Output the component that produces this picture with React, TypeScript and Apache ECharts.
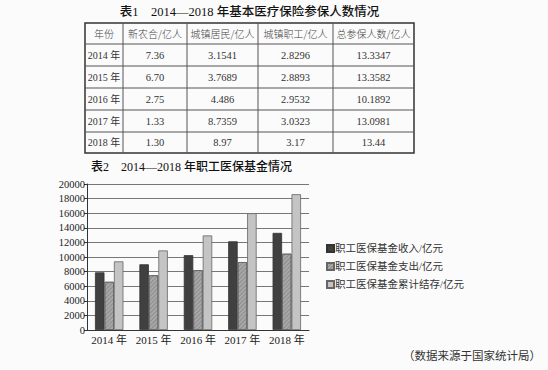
import React, { useEffect, useRef } from "react";
import * as echarts from "echarts";

// ---- Table 1 data ----
const table1Title = "表1　2014—2018 年基本医疗保险参保人数情况";
const tableHeaders = ["年份", "新农合/亿人", "城镇居民/亿人", "城镇职工/亿人", "总参保人数/亿人"];
const tableYears = ["2014 年", "2015 年", "2016 年", "2017 年", "2018 年"];
const xinNongHe = ["7.36", "6.70", "2.75", "1.33", "1.30"];
const chengZhenJuMin = ["3.1541", "3.7689", "4.486", "8.7359", "8.97"];
const chengZhenZhiGong = ["2.8296", "2.8893", "2.9532", "3.0323", "3.17"];
const zongCanBao = ["13.3347", "13.3582", "10.1892", "13.0981", "13.44"];

// ---- Table 2 (chart) data ----
const chartTitle = "表2　2014—2018 年职工医保基金情况";
const categories = ["2014 年", "2015 年", "2016 年", "2017 年", "2018 年"];
const seriesNames = ["职工医保基金收入/亿元", "职工医保基金支出/亿元", "职工医保基金累计结存/亿元"];
const income = [7900, 9000, 10250, 12150, 13300];
const expense = [6600, 7500, 8200, 9300, 10450];
const balance = [9400, 10900, 12950, 16000, 18600];
const sourceNote = "（数据来源于国家统计局）";

const SERIF = '"Liberation Serif", "DejaVu Serif", "Noto Sans CJK SC", serif';
const CJK = '"Noto Sans CJK SC", "Liberation Serif", sans-serif';

export default function App() {
  const ref = useRef<HTMLDivElement>(null);
  useEffect(() => {
    if (!ref.current) return;
    const chart = echarts.init(ref.current, undefined, { renderer: "svg" });

    // table layout
    const colX = [85, 123, 187, 258, 333, 414];
    const rowY = [23, 44, 66, 88, 110, 132, 153];
    const columns = [tableYears, xinNongHe, chengZhenJuMin, chengZhenZhiGong, zongCanBao];
    const graphics: any[] = [];
    graphics.push({
      type: "text",
      style: {
        text: table1Title,
        x: (colX[0] + colX[colX.length - 1]) / 2,
        y: 12,
        textAlign: "center",
        textVerticalAlign: "middle",
        font: `500 12.5px ${SERIF}`,
        fill: "#111",
      },
    });
    graphics.push({
      type: "rect",
      shape: { x: colX[0], y: rowY[0], width: colX[5] - colX[0], height: rowY[6] - rowY[0] },
      style: { fill: "none", stroke: "#333", lineWidth: 1.5 },
    });
    for (let i = 1; i < colX.length - 1; i++) {
      graphics.push({
        type: "line",
        shape: { x1: colX[i], y1: rowY[0], x2: colX[i], y2: rowY[6] },
        style: { stroke: "#555", lineWidth: 1 },
      });
    }
    for (let j = 1; j < rowY.length - 1; j++) {
      graphics.push({
        type: "line",
        shape: { x1: colX[0], y1: rowY[j], x2: colX[5], y2: rowY[j] },
        style: { stroke: "#555", lineWidth: 1 },
      });
    }
    tableHeaders.forEach((h, i) => {
      graphics.push({
        type: "text",
        style: {
          text: h,
          x: (colX[i] + colX[i + 1]) / 2,
          y: (rowY[0] + rowY[1]) / 2,
          textAlign: "center",
          textVerticalAlign: "middle",
          font: `300 10px ${CJK}`,
          fill: "#444",
        },
      });
    });
    columns.forEach((col, i) => {
      col.forEach((v, j) => {
        graphics.push({
          type: "text",
          style: {
            text: v,
            x: (colX[i] + colX[i + 1]) / 2,
            y: (rowY[j + 1] + rowY[j + 2]) / 2,
            textAlign: "center",
            textVerticalAlign: "middle",
            font: i === 0 ? `10px ${SERIF}` : `10.5px ${SERIF}`,
            fill: "#333",
          },
        });
      });
    });
    graphics.push({
      type: "text",
      style: {
        text: chartTitle,
        x: 91,
        y: 167,
        textAlign: "left",
        textVerticalAlign: "middle",
        font: `500 12px ${SERIF}`,
        fill: "#111",
      },
    });
    graphics.push({
      type: "text",
      style: {
        text: sourceNote,
        x: 541,
        y: 355,
        textAlign: "right",
        textVerticalAlign: "middle",
        font: `11.5px ${CJK}`,
        fill: "#333",
      },
    });

    const barBorder = { borderColor: "#333", borderWidth: 0.8 };
    chart.setOption({
      animation: false,
      backgroundColor: "#fbfbfb",
      textStyle: { fontFamily: SERIF },
      grid: { left: 87, right: 239, top: 184, bottom: 40 },
      legend: {
        orient: "vertical",
        left: 321,
        top: 237,
        icon: "rect",
        itemWidth: 7,
        itemHeight: 7,
        itemGap: 5,
        data: seriesNames,
        textStyle: { fontFamily: SERIF, fontSize: 10.5, color: "#333", padding: [0, 0, 0, -4], lineHeight: 13 },
      },
      xAxis: {
        type: "category",
        data: categories,
        axisLine: { lineStyle: { color: "#333", width: 1 } },
        axisTick: { show: false },
        axisLabel: { fontFamily: SERIF, fontSize: 11, color: "#222", margin: 4, interval: 0 },
      },
      yAxis: {
        type: "value",
        min: 0,
        max: 20000,
        interval: 2000,
        axisLine: { show: true, lineStyle: { color: "#333", width: 1 } },
        axisTick: { show: true, length: 3, lineStyle: { color: "#333" } },
        axisLabel: {
          fontFamily: SERIF,
          fontSize: 10.5,
          color: "#222",
          margin: 2,
          formatter: (v: number) => String(v),
        },
        splitLine: { lineStyle: { color: "#777", width: 1 } },
      },
      series: [
        {
          name: seriesNames[0],
          type: "bar",
          data: income,
          barGap: "0%",
          barCategoryGap: "36%",
          itemStyle: { color: "#404040", ...barBorder },
        },
        {
          name: seriesNames[1],
          type: "bar",
          data: expense,
          barGap: "0%",
          barCategoryGap: "36%",
          itemStyle: {
            color: "#a8a8a8",
            ...barBorder,
            borderColor: "#666",
            decal: {
              symbol: "rect",
              symbolSize: 1,
              dashArrayX: [1, 0],
              dashArrayY: [1, 2],
              rotation: -Math.PI / 4,
              color: "rgba(60,60,60,0.25)",
            },
          },
        },
        {
          name: seriesNames[2],
          type: "bar",
          data: balance,
          barGap: "0%",
          barCategoryGap: "36%",
          itemStyle: { color: "#c4c4c4", ...barBorder, borderColor: "#666" },
        },
      ],
      graphic: graphics,
    });
    return () => chart.dispose();
  }, []);
  return (
    <div
      ref={ref}
      style={{ position: "fixed", left: 0, top: 0, width: 548, height: 370 }}
    />
  );
}
